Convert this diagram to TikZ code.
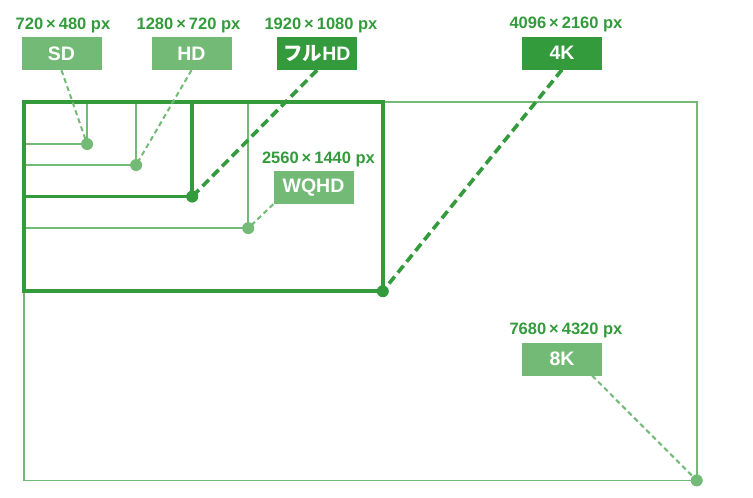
\documentclass[tikz,border=0pt]{standalone}
\usepackage{fontspec}
\setmainfont{Liberation Sans}
\newfontfamily\jpfont{Noto Sans CJK JP}
\usetikzlibrary{positioning}
\definecolor{paleink}{RGB}{114, 186, 118}
\definecolor{deepink}{RGB}{51, 155, 59}
\newcommand{\res}[2]{#1\hspace{3pt}×\hspace{3pt}#2 px}

\tikzset{
  resbox/.style={fill=#1, text=white, minimum width=80pt, minimum height=33pt,
    inner sep=0pt, font=\fontsize{19.5}{21}\selectfont\bfseries},
  reslabel/.style={text=deepink, inner sep=0pt, font=\fontsize{16.5}{18}\selectfont\bfseries},
  thinframe/.style={paleink, line width=1.6pt},
  thickframe/.style={deepink, line width=3.6pt},
  thinlead/.style={paleink, line width=2pt, dash pattern=on 5pt off 3.5pt},
  thicklead/.style={deepink, line width=3.6pt, dash pattern=on 9pt off 5pt}
}

\begin{document}
\begin{tikzpicture}[x=1pt, y=-1pt]
  \useasboundingbox (0,0) rectangle (753,498);
  % corners, in screen pixels
  \begin{scope}[shift={(24,102)}, x=0.0876pt, y=-0.0876pt]
    \coordinate (o) at (0,0);
    \coordinate (sdc) at (720,480);
    \coordinate (hdc) at (1280,720);
    \coordinate (fhdc) at (1920,1080);
    \coordinate (wqhdc) at (2560,1440);
    \coordinate (fourkc) at (4096,2160);
    \coordinate (eightkc) at (7680,4320);
  \end{scope}

  \draw[thinframe] (o) rectangle (eightkc);
  \draw[thinframe] (sdc -| o) -- (sdc) -- (sdc |- o);
  \draw[thinframe] (hdc -| o) -- (hdc) -- (hdc |- o);
  \draw[thinframe] (wqhdc -| o) -- (wqhdc) -- (wqhdc |- o);
  \draw[thickframe] (o) rectangle (fourkc);
  \draw[thickframe] (fhdc -| o) -- (fhdc) -- (fhdc |- o);

  % name boxes
  \node[resbox=paleink] (sd) at (61.5,53.5) {SD};
  \node[resbox=paleink] (hd) at (191.5,53.5) {HD};
  \node[resbox=deepink] (fhd) at (317,53.5) {{\jpfont\bfseries フル}HD};
  \node[resbox=deepink] (fourk) at (562,53) {4K};
  \node[resbox=paleink] (wqhd) at (313.5,187.5) {WQHD};
  \node[resbox=paleink] (eightk) at (562,359) {8K};

  \node[reslabel, above=4pt of sd, xshift=1.5pt] (sdres) {\res{720}{480}};
  \node[reslabel, above=4pt of hd, xshift=-3pt] (hdres) {\res{1280}{720}};
  \node[reslabel, above=4pt of fhd, xshift=4pt] (fhdres) {\res{1920}{1080}};
  \node[reslabel, above=4pt of fourk, xshift=4pt] (fourkres) {\res{4096}{2160}};
  \node[reslabel, above=4pt of wqhd, xshift=5pt] (wqhdres) {\res{2560}{1440}};
  \node[reslabel, above=4pt of eightk, xshift=4pt] (eightkres) {\res{7680}{4320}};

  % leaders
  \draw[thinlead] (sd.south) -- (sdc);
  \draw[thinlead] (hd.south) -- (hdc);
  \draw[thinlead] (wqhd.south west) -- (wqhdc);
  \draw[thinlead] (eightk.-29) -- (eightkc);
  \draw[thicklead] (fhd.south) -- (fhdc);
  \draw[thicklead] (fourk.south) -- (fourkc);

  \fill[paleink] (sdc) circle (6pt) (hdc) circle (6pt) (wqhdc) circle (6pt)
    (eightkc) circle (6pt);
  \fill[deepink] (fhdc) circle (6pt) (fourkc) circle (6pt);
\end{tikzpicture}
\end{document}
